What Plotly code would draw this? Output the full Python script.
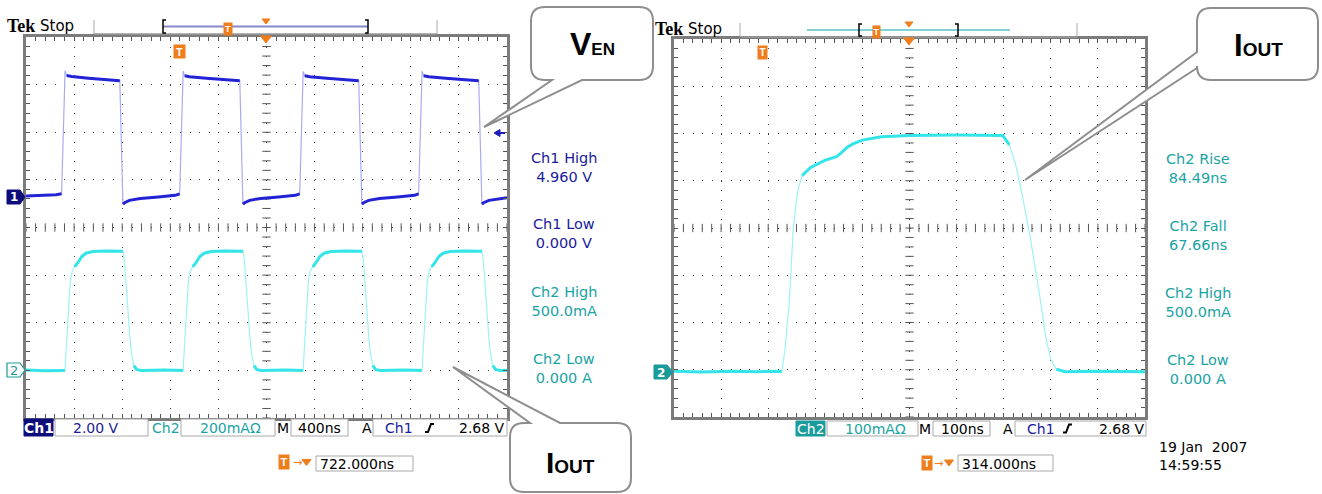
import plotly.graph_objects as go
import numpy as np

W, H = 1322, 494

# ---------------- data ----------------
# Left screen: 400 ns/div, Ch1 2.00 V/div, Ch2 200 mA/div (time from left edge of graticule)
L_ns_per_div = 400
L_ch1_V_per_div = 2.0
L_ch2_mA_per_div = 200
L_ch1_ground_div = 0.64
L_ch2_ground_div = -3.0

ch1_t = [0, 120, 250, 296,
         321, 325, 338, 380, 520, 680, 780, 806, 820, 860, 950, 1100, 1240, 1278,
         1303, 1307, 1320, 1360, 1500, 1660, 1778, 1804, 1818, 1860, 1950, 2100, 2240, 2276,
         2301, 2305, 2318, 2360, 2500, 2660, 2767, 2793, 2807, 2850, 2940, 3090, 3230, 3265,
         3290, 3294, 3307, 3350, 3490, 3650, 3765, 3791, 3805, 3850, 3940, 4000]
ch1_v = [0.04, 0.06, 0.10, 0.14,
         5.05, 5.30, 5.10, 5.06, 4.99, 4.94, 4.88, -0.30, -0.24, -0.14, -0.06, 0.00, 0.07, 0.13,
         5.05, 5.28, 5.09, 5.05, 4.99, 4.94, 4.88, -0.30, -0.24, -0.14, -0.06, 0.00, 0.07, 0.13,
         5.05, 5.27, 5.09, 5.05, 4.99, 4.94, 4.88, -0.30, -0.24, -0.14, -0.06, 0.00, 0.07, 0.13,
         5.05, 5.28, 5.09, 5.05, 4.99, 4.94, 4.88, -0.30, -0.24, -0.14, -0.06, -0.03]

ch2L_t = [0, 150, 324, 339, 354, 369, 384, 404, 429, 464, 499, 559, 650, 807, 817, 832, 847, 862, 877, 897, 922, 962, 1150,
          1306, 1321, 1336, 1351, 1366, 1386, 1411, 1446, 1481, 1541, 1650, 1805, 1815, 1830, 1845, 1860, 1875, 1895, 1920, 1960, 2150,
          2304, 2319, 2334, 2349, 2364, 2384, 2409, 2444, 2479, 2539, 2650, 2794, 2804, 2819, 2834, 2849, 2864, 2884, 2909, 2949, 3150,
          3293, 3308, 3323, 3338, 3353, 3373, 3398, 3433, 3468, 3528, 3640, 3792, 3802, 3817, 3832, 3847, 3862, 3882, 3907, 3947, 4000]
ch2L_mA = [2, -2, 0, 120, 280, 380, 415, 435, 450, 478, 492, 499, 501, 500, 470, 380, 260, 150, 70, 20, 3, 0, 2,
           0, 120, 280, 380, 415, 435, 450, 478, 492, 499, 501, 500, 470, 380, 260, 150, 70, 20, 3, 0, 2,
           0, 120, 280, 380, 415, 435, 450, 478, 492, 499, 501, 500, 470, 380, 260, 150, 70, 20, 3, 0, 2,
           0, 120, 280, 380, 415, 435, 450, 478, 492, 499, 501, 500, 470, 380, 260, 150, 70, 20, 3, 0, 1]

# Right screen: 100 ns/div, Ch2 100 mA/div
R_ns_per_div = 100
R_ch2_mA_per_div = 100
R_ch2_ground_div = -3.04

ch2R_t = [0, 60, 120, 180, 225, 229, 236, 245, 253, 262, 272, 290, 320, 345, 355, 368, 380, 400, 440, 500,
          600, 698, 712, 725, 740, 757, 775, 790, 800, 812, 830, 900, 1000]
ch2R_mA = [1, -1, 1, 0, 1, 0, 50, 150, 300, 380, 415, 432, 447, 455, 463, 475, 482, 490, 497, 500,
           501, 500, 480, 440, 370, 280, 170, 70, 25, 5, 0, 1, 0]

left_meas_names = ["Ch1 High", "Ch1 Low", "Ch2 High", "Ch2 Low"]
left_meas_values = ["4.960 V", "0.000 V", "500.0mA", "0.000 A"]
right_meas_names = ["Ch2 Rise", "Ch2 Fall", "Ch2 High", "Ch2 Low"]
right_meas_values = ["84.49ns", "67.66ns", "500.0mA", "0.000 A"]

# ---------------- style ----------------
CH1_DARK = "#2323d6"
CH1_EDGE = "#aaaaf2"
CH2_DARK = "#33e4e8"
CH2_EDGE = "#9ff2f4"
CH1_TXT = "#1a1a9c"
CH2_TXT = "#1aa3a3"
ORANGE = "#f07d1c"
NAVY = "#0c0c7a"
TEAL = "#1a9b9b"
FRAME = "#7c7c7c"
SANS = "DejaVu Sans"

# plot area pixels
LX0, LX1, LY0, LY1 = 26, 507, 37, 418
RX0, RX1, RY0, RY1 = 674, 1145, 39, 417


def X(p):
    return p / W


def Y(p):
    return 1 - p / H


def split(t, y, px_per_t, px_per_div):
    # break the thick trace on steep (fast edge) segments
    xs, ys = [], []
    for i in range(len(t)):
        if i > 0:
            dx = abs(t[i] - t[i - 1]) * px_per_t
            dy = abs(y[i] - y[i - 1]) * px_per_div
            if dy > 1.6 * dx and dy > 4:
                xs.append(None)
                ys.append(None)
        xs.append(t[i])
        ys.append(y[i])
    return xs, ys


fig = go.Figure()


def add_wave(t, yd, xa, ya, dark, edge, pxt, pxd):
    fig.add_trace(go.Scatter(x=t, y=yd, mode="lines", line=dict(color=edge, width=1.2),
                             xaxis=xa, yaxis=ya, hoverinfo="skip"))
    xs, ys = split(t, yd, pxt, pxd)
    fig.add_trace(go.Scatter(x=xs, y=ys, mode="lines", line=dict(color=dark, width=3),
                             xaxis=xa, yaxis=ya, hoverinfo="skip", connectgaps=False))


ch1_div = [v / L_ch1_V_per_div + L_ch1_ground_div for v in ch1_v]
ch2L_div = [m / L_ch2_mA_per_div + L_ch2_ground_div for m in ch2L_mA]
ch2R_div = [m / R_ch2_mA_per_div + R_ch2_ground_div for m in ch2R_mA]

# center-line tick marks
for xa, ya, span in (("x", "y", 10 * L_ns_per_div), ("x2", "y2", 10 * R_ns_per_div)):
    xt = np.arange(0, span + 1e-9, span / 50)
    fig.add_trace(go.Scatter(x=xt, y=np.zeros_like(xt), mode="markers", xaxis=xa, yaxis=ya,
                             marker=dict(symbol="line-ns", size=6, line=dict(width=1, color="#555555")),
                             hoverinfo="skip"))
    yt = np.arange(-4, 4.0001, 0.2)
    fig.add_trace(go.Scatter(x=np.full_like(yt, span / 2), y=yt, mode="markers", xaxis=xa, yaxis=ya,
                             marker=dict(symbol="line-ew", size=6, line=dict(width=1, color="#555555")),
                             hoverinfo="skip"))

Lpxt = (LX1 - LX0) / (10 * L_ns_per_div)
Lpxd = (LY1 - LY0) / 8
Rpxt = (RX1 - RX0) / (10 * R_ns_per_div)
Rpxd = (RY1 - RY0) / 8
add_wave(ch2L_t, ch2L_div, "x", "y", CH2_DARK, CH2_EDGE, Lpxt, Lpxd)
add_wave(ch1_t, ch1_div, "x", "y", CH1_DARK, CH1_EDGE, Lpxt, Lpxd)
add_wave(ch2R_t, ch2R_div, "x2", "y2", CH2_DARK, CH2_EDGE, Rpxt, Rpxd)


def axis(rng, dtick, dom, anchor, dash):
    return dict(range=rng, domain=dom, anchor=anchor, tick0=0, dtick=dtick,
                showline=True, linewidth=3, linecolor=FRAME, mirror="allticks",
                ticks="inside", ticklen=4, tickwidth=1, tickcolor="#555555",
                showticklabels=False, showgrid=True, gridcolor="#3c3c3c", gridwidth=1,
                griddash=dash, zeroline=False, fixedrange=True,
                minor=dict(ticks="inside", ticklen=4, tickwidth=1, tickcolor="#555555",
                           dtick=dtick / 5, showgrid=False))


fig.update_layout(
    width=W, height=H, margin=dict(l=0, r=0, t=0, b=0),
    paper_bgcolor="white", plot_bgcolor="white", showlegend=False,
    xaxis=axis([0, 10 * L_ns_per_div], L_ns_per_div, [X(LX0), X(LX1)], "y",
               "1px,%.3fpx" % ((LY1 - LY0) / 40 - 1)),
    yaxis=axis([-4, 4], 1, [Y(LY1), Y(LY0)], "x", "1px,%.3fpx" % ((LX1 - LX0) / 50 - 1)),
    xaxis2=axis([0, 10 * R_ns_per_div], R_ns_per_div, [X(RX0), X(RX1)], "y2",
                "1px,%.3fpx" % ((RY1 - RY0) / 40 - 1)),
    yaxis2=axis([-4, 4], 1, [Y(RY1), Y(RY0)], "x2", "1px,%.3fpx" % ((RX1 - RX0) / 50 - 1)),
)

shapes = []
ann = []


def line(x0, y0, x1, y1, color, w=1):
    shapes.append(dict(type="line", xref="paper", yref="paper", x0=X(x0), y0=Y(y0), x1=X(x1), y1=Y(y1),
                       line=dict(color=color, width=w), layer="above"))


def rect(x0, y0, x1, y1, fill="white", lc="#a8a8a8", w=1):
    shapes.append(dict(type="rect", xref="paper", yref="paper", x0=X(x0), y0=Y(y0), x1=X(x1), y1=Y(y1),
                       fillcolor=fill, line=dict(color=lc, width=w), layer="above"))


def path(pts, fill=None, lc="black", w=1, close=True):
    d = "M" + " L".join("%.5f,%.5f" % (X(a), Y(b)) for a, b in pts) + (" Z" if close else "")
    s = dict(type="path", xref="paper", yref="paper", path=d, line=dict(color=lc, width=w), layer="above")
    if fill:
        s["fillcolor"] = fill
    shapes.append(s)


def rpath(cmds, fill, lc, w):
    out = []
    for c in cmds:
        if c[0] == "Z":
            out.append("Z")
        elif c[0] == "Q":
            out.append("Q%.5f,%.5f %.5f,%.5f" % (X(c[1]), Y(c[2]), X(c[3]), Y(c[4])))
        else:
            out.append("%s%.5f,%.5f" % (c[0], X(c[1]), Y(c[2])))
    shapes.append(dict(type="path", xref="paper", yref="paper", path=" ".join(out),
                       fillcolor=fill, line=dict(color=lc, width=w), layer="above"))


def txt(x, y, s, color="black", size=14, family=SANS, xa="center", ya="middle", bg=None, **kw):
    a = dict(xref="paper", yref="paper", x=X(x), y=Y(y), text=s, showarrow=False,
             font=dict(color=color, size=size, family=family), xanchor=xa, yanchor=ya)
    if bg:
        a["bgcolor"] = bg
    a.update(kw)
    ann.append(a)


def tmark(x, y, w, h, size=10):
    ann.append(dict(xref="paper", yref="paper", x=X(x), y=Y(y), text="<b>T</b>", showarrow=False,
                    font=dict(color="white", size=size, family="Liberation Sans"),
                    bgcolor=ORANGE, width=w, height=h, borderpad=0, xanchor="center", yanchor="middle"))


def tri_down(x, y, w, h):
    path([(x - w / 2, y), (x + w / 2, y), (x, y + h)], fill=ORANGE, lc=ORANGE, w=1)


# ---- header: Tek Stop ----
for x0, yc, x1 in ((5, 26, 38), (653, 29.5, 686)):
    txt(x0, yc, "<b>Tek</b>", "black", 18, "Liberation Serif", xa="left")
    txt(x1, yc, "Stop", "black", 15, SANS, xa="left")

# left top bar
line(94, 20, 94, 34, "#a8a8a8", 1)
line(437, 20, 437, 34, "#a8a8a8", 1)
line(94, 34, 437, 34, "#9a9a9a", 1.5)
line(163, 26.5, 368, 26.5, "#8686c8", 2)
path([(166, 20), (163, 20), (163, 33), (166, 33)], lc="black", w=1.5, close=False)
path([(365, 20), (368, 20), (368, 33), (365, 33)], lc="black", w=1.5, close=False)
tmark(228, 29, 8, 12, 9)
tri_down(266, 19, 8, 5)
tri_down(266, 36, 11, 7)
tmark(179, 51, 11, 13, 11)

# right top bar
line(740, 23, 740, 37, "#a8a8a8", 1)
line(1077, 23, 1077, 37, "#a8a8a8", 1)
line(740, 37, 1077, 37, "#9a9a9a", 1.5)
line(807, 30, 1010, 30, "#80d2d2", 2)
path([(862, 24), (859, 24), (859, 36), (862, 36)], lc="black", w=1.5, close=False)
path([(955, 24), (958, 24), (958, 36), (955, 36)], lc="black", w=1.5, close=False)
tmark(876, 32, 7, 12, 9)
tri_down(909, 22, 8, 5)
tri_down(909, 38, 11, 7)
tmark(762, 53, 9, 13, 10)

# channel ground markers
path([(7, 190), (20, 190), (25, 197), (20, 204), (7, 204)], fill=NAVY, lc=NAVY, w=1)
txt(14, 197.5, "<b>1</b>", "white", 12)
path([(7, 363), (20, 363), (25, 370), (20, 377), (7, 377)], fill="white", lc=TEAL, w=1.2)
txt(14, 370.5, "2", TEAL, 13)
path([(654, 365), (667, 365), (673, 372), (667, 379), (654, 379)], fill=TEAL, lc=TEAL, w=1)
txt(661, 372.5, "<b>2</b>", "white", 12)

# ch1 trigger level arrow
path([(494, 133), (500, 129.5), (500, 136.5)], fill="#1c1cb8", lc="#1c1cb8", w=1)
line(499, 133, 505, 133, "#1c1cb8", 2)

# measurements (two-line blocks)
ycs = [167, 234, 301, 368]
for i, yc in enumerate(ycs):
    col = CH1_TXT if left_meas_names[i].startswith("Ch1") else CH2_TXT
    txt(563.5, yc, left_meas_names[i] + "<br>" + left_meas_values[i], col, 14.5)
ycs_r = [169, 235.5, 302.5, 369]
for i, yc in enumerate(ycs_r):
    txt(1198, yc, right_meas_names[i] + "<br>" + right_meas_values[i], CH2_TXT, 14.5)


def edge_sym(x, y):
    path([(x - 5, y + 4), (x - 2, y + 4), (x + 1, y - 4), (x + 4, y - 4)], lc="black", w=2, close=False)


# ---- left status bar ----
SY0, SY1, SYC = 419, 436, 428
rect(24, SY0, 53, SY1, fill=NAVY, lc=NAVY)
txt(38.5, SYC, "<b>Ch1</b>", "white", 14)
rect(55, SY0, 148, SY1)
txt(96, SYC, "2.00 V", CH1_TXT, 14)
txt(165.5, SYC, "Ch2", CH2_TXT, 14)
rect(181, SY0, 275, SY1)
txt(230, SYC, "200mAΩ", CH2_TXT, 14)
txt(283, SYC, "M", "black", 14)
rect(291, SY0, 348, SY1)
txt(319, SYC, "400ns", "black", 14)
txt(367, SYC, "A", "black", 14)
rect(373, SY0, 507, SY1)
txt(399, SYC, "Ch1", CH1_TXT, 14)
edge_sym(430, SYC)
txt(482, SYC, "2.68 V", "black", 14)

tmark(284, 462, 10, 14, 11)
txt(297, 462, "→", ORANGE, 11)
tri_down(306.5, 459.5, 9, 6)
rect(316, 456, 413, 471)
txt(318, 463.5, "722.000ns", "black", 14, xa="left")

# ---- right status bar ----
RS0, RS1, RSC = 421, 436, 428.5
rect(796, RS0, 825, RS1, fill=TEAL, lc=TEAL)
txt(810.5, RSC, "Ch2", "white", 14)
rect(827, RS0, 918, RS1)
txt(875, RSC, "100mAΩ", CH2_TXT, 14)
txt(925, RSC, "M", "black", 14)
rect(933, RS0, 990, RS1)
txt(962, RSC, "100ns", "black", 14)
txt(1008, RSC, "A", "black", 14)
rect(1015, RS0, 1146, RS1)
txt(1041, RSC, "Ch1", CH1_TXT, 14)
edge_sym(1068, RSC)
txt(1122, RSC, "2.68 V", "black", 14)

tmark(927, 463, 10, 14, 11)
txt(938, 463, "→", ORANGE, 11)
tri_down(949, 460, 9, 6)
rect(958, 455, 1053, 471)
txt(960, 463.5, "314.000ns", "black", 14, xa="left")

txt(1157, 456, "19 Jan\u00a0\u00a02007<br>14:59:55", "black", 14, xa="left", align="left")


# ---- callouts ----
def callout(x0, y0, x1, y1, r, tail):
    side, a, b, tx, ty = tail
    cmds = [("M", x0 + r, y0), ("L", x1 - r, y0), ("Q", x1, y0, x1, y0 + r),
            ("L", x1, y1 - r), ("Q", x1, y1, x1 - r, y1)]
    if side == "bottom":
        cmds += [("L", b, y1), ("L", tx, ty), ("L", a, y1)]
    cmds += [("L", x0 + r, y1), ("Q", x0, y1, x0, y1 - r)]
    if side == "left":
        cmds += [("L", x0, b), ("L", tx, ty), ("L", x0, a)]
    cmds += [("L", x0, y0 + r), ("Q", x0, y0, x0 + r, y0)]
    cmds.append(("Z",))
    rpath(cmds, "white", "#8e8e8e", 2)


def callout_top(x0, y0, x1, y1, r, a, b, tx, ty):
    cmds = [("M", x0 + r, y0), ("L", a, y0), ("L", tx, ty), ("L", b, y0), ("L", x1 - r, y0),
            ("Q", x1, y0, x1, y0 + r), ("L", x1, y1 - r), ("Q", x1, y1, x1 - r, y1),
            ("L", x0 + r, y1), ("Q", x0, y1, x0, y1 - r), ("L", x0, y0 + r), ("Q", x0, y0, x0 + r, y0), ("Z",)]
    rpath(cmds, "white", "#8e8e8e", 2)


callout(531, 7, 653, 80, 14, ("bottom", 552, 582, 484, 127))
callout_top(510, 423, 631, 492, 14, 530, 560, 453, 367)
callout(1197, 8, 1318, 80, 14, ("left", 52, 68, 1025, 180))

BIG = "Liberation Sans"
txt(592, 43.5, '<b><span style="font-size:32px">V</span><span style="font-size:17px">EN</span></b>',
    "black", 32, BIG)
txt(570, 462.5, '<b><span style="font-size:30px">I</span><span style="font-size:19px">OUT</span></b>',
    "black", 30, BIG)
txt(1258, 46, '<b><span style="font-size:31px">I</span><span style="font-size:19px">OUT</span></b>',
    "black", 31, BIG)

fig.update_layout(shapes=shapes, annotations=ann)
fig.write_html("out.html", config={"displayModeBar": False, "staticPlot": True},
               post_script="document.body.style.margin='0px';document.body.style.overflow='hidden';")
